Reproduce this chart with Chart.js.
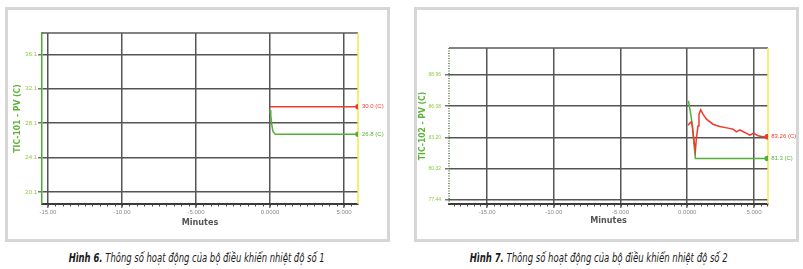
<!DOCTYPE html>
<html><head><meta charset="utf-8">
<script src="https://cdn.jsdelivr.net/npm/chart.js@4.4.1/dist/chart.umd.min.js"></script>
<style>
html,body{margin:0;padding:0;background:#fff;width:803px;height:269px;overflow:hidden;}
.frame{position:absolute;border:3px solid #d6d6d6;box-sizing:border-box;background:#fff;}
.cv{position:absolute;}
.capbox{position:absolute;top:249px;height:16px;line-height:16px;text-align:center;width:394px;}
.cap{display:inline-block;white-space:nowrap;font-family:"Liberation Sans Narrow","DejaVu Sans Condensed",sans-serif;font-style:italic;font-size:13px;color:#1a1a1a;transform-origin:center center;}
.cap b{font-weight:bold;}
</style></head><body>
<div class="frame" style="left:5px;top:7px;width:385px;height:235px;"></div>
<div class="frame" style="left:414px;top:7px;width:385px;height:235px;"></div>
<div class="cv" style="left:8px;top:10px;"><canvas id="c1" width="379" height="229"></canvas></div>
<div class="cv" style="left:417px;top:10px;"><canvas id="c2" width="379" height="229"></canvas></div>
<div class="capbox" style="left:0px;"><span class="cap" id="cap1" data-w="256"><b>Hình 6.</b> Thông số hoạt động của bộ điều khiển nhiệt độ số 1</span></div>
<div class="capbox" style="left:402px;"><span class="cap" id="cap2" data-w="258"><b>Hình 7.</b> Thông số hoạt động của bộ điều khiển nhiệt độ số 2</span></div>
<script>
// ---- Data: chart 1 (TIC-101) ----
const xTicks = [-15, -10, -5, 0, 5];
const xTickLabels = ["-15.00", "-10.00", "-5.000", "0.0000", "5.000"];

const yTicks1 = [20.1, 24.1, 28.1, 32.1, 36.1];
const yTickLabels1 = ["20.1", "24.1", "28.1", "32.1", "36.1"];
const min1Red = [0, 5.94];
const temp1Red = [30.0, 30.0];
const min1Green = [0, 0.05, 0.12, 0.2, 0.35, 5.94];
const temp1Green = [29.6, 29.0, 27.9, 27.1, 26.8, 26.8];
const endLabels1 = ["30.0 (C)", "26.8 (C)"];

// ---- Data: chart 2 (TIC-102) ----
const yTicks2 = [77.44, 80.32, 83.20, 86.08, 88.96];
const yTickLabels2 = ["77.44", "80.32", "83.20", "86.08", "88.96"];
const min2Red = [0.05, 0.19, 0.31, 0.39, 0.49, 0.61, 0.69, 0.81, 0.88, 1.01, 1.18, 1.44, 1.93, 2.43, 3.06, 3.43, 3.69, 3.93, 4.31, 4.68, 4.98, 5.30, 5.68, 5.99];
const temp2Red = [84.33, 84.52, 84.64, 84.12, 83.04, 81.97, 83.20, 84.27, 85.34, 85.74, 85.34, 84.88, 84.42, 84.21, 84.06, 83.96, 83.72, 83.90, 83.66, 83.41, 83.60, 83.35, 83.26, 83.26];
const min2Green = [0.09, 0.24, 0.39, 0.49, 0.61, 5.99];
const temp2Green = [86.57, 85.50, 84.27, 82.74, 81.27, 81.27];
const endLabels2 = ["83.26 (C)", "81.3 (C)"];

const RED = '#ef3b2c';
const GREEN = '#52b035';
const NARROW = '"Liberation Sans Narrow","DejaVu Sans Condensed",Arial,sans-serif';

function pts(xs, ys){ return xs.map((x,i)=>({x:x, y:ys[i]})); }

const decoPlugin = {
  id: 'deco',
  beforeDatasetsDraw(chart, args, opts){
    const {ctx, chartArea:{left,right,top,bottom}} = chart;
    ctx.save();
    ctx.strokeStyle = '#5a5a5a'; ctx.lineWidth = 1.5;
    ctx.beginPath(); ctx.moveTo(left, top); ctx.lineTo(right, top); ctx.stroke();
    // minor ticks on the time axis
    const xs = chart.scales.x;
    ctx.strokeStyle = '#444'; ctx.lineWidth = 1;
    ctx.beginPath();
    for (let v = Math.ceil(xs.min * 2) / 2; v <= xs.max; v += 0.5) {
      const px = Math.round(xs.getPixelForValue(v)) + 0.5;
      ctx.moveTo(px, bottom); ctx.lineTo(px, bottom + 2.5);
    }
    ctx.stroke();
    if (opts.dottedY) {
      ctx.strokeStyle = '#4d7a35'; ctx.lineWidth = 1.5; ctx.setLineDash([1, 1.5]);
      ctx.beginPath(); ctx.moveTo(left, top); ctx.lineTo(left, bottom); ctx.stroke();
      ctx.setLineDash([]);
    }
    ctx.strokeStyle = '#f3e84e'; ctx.lineWidth = 1.5;
    ctx.beginPath(); ctx.moveTo(right, top); ctx.lineTo(right, bottom); ctx.stroke();
    ctx.restore();
  },
  afterDatasetsDraw(chart, args, opts){
    const {ctx} = chart;
    ctx.save();
    ctx.font = '6px Arial';
    ctx.textBaseline = 'middle';
    chart.data.datasets.forEach((ds, i) => {
      const meta = chart.getDatasetMeta(i);
      const p = meta.data[meta.data.length - 1];
      ctx.fillStyle = ds.borderColor;
      ctx.fillText(opts.labels[i], p.x + 4, p.y);
    });
    ctx.restore();
  }
};

function makeChart(id, cfg){
  const lastR = cfg.red.length - 1, lastG = cfg.green.length - 1;
  return new Chart(document.getElementById(id), {
    type: 'line',
    data: {
      datasets: [
        { data: cfg.red, borderColor: RED, backgroundColor: RED, borderWidth: 1.5, tension: 0,
          pointRadius: c => c.dataIndex === lastR ? 2 : 0 },
        { data: cfg.green, borderColor: GREEN, backgroundColor: GREEN, borderWidth: 1.5, tension: 0,
          pointRadius: c => c.dataIndex === lastG ? 2 : 0 }
      ]
    },
    options: {
      responsive: false, animation: false, devicePixelRatio: 1,
      layout: { padding: { left: 0, top: cfg.padTop, right: cfg.padRight, bottom: 0 } },
      plugins: { legend: {display:false}, tooltip: {enabled:false}, deco: { labels: cfg.endLabels, dottedY: cfg.dottedY } },
      scales: {
        x: {
          type: 'linear', min: cfg.xmin, max: cfg.xmax,
          afterBuildTicks: s => { s.ticks = xTicks.map(v => ({value: v})); },
          ticks: { callback: v => xTickLabels[xTicks.indexOf(v)], font: {size: 6, family: 'Arial'}, color: '#8a8a8a', maxRotation: 0, autoSkip: false, padding: 1 },
          grid: { color: '#555', lineWidth: 1.5, tickLength: 4, tickColor: '#777' },
          border: { color: '#3a3a3a', width: 2 },
          title: { display: true, text: 'Minutes', color: '#555', font: { family: NARROW, size: 9, weight: 'bold' }, padding: { top: 0, bottom: cfg.xTitlePad } },
          afterFit: s => { s.height = cfg.xHeight; }
        },
        y: {
          min: cfg.ymin, max: cfg.ymax,
          afterBuildTicks: s => { s.ticks = cfg.yTicks.map(v => ({value: v})); },
          ticks: { callback: v => cfg.yTickLabels[cfg.yTicks.indexOf(v)], font: {size: cfg.yTickSize, family: 'Arial'}, color: '#8dc63f', padding: cfg.yTickPad },
          grid: { color: '#555', lineWidth: 1.5, tickLength: 4, tickColor: '#777' },
          border: cfg.yBorder,
          title: { display: true, text: cfg.yTitle, color: '#5cb335', font: { family: NARROW, size: 8.5, weight: 'bold' }, padding: { top: cfg.yTitlePad, bottom: 0 } },
          afterFit: s => { s.width = cfg.yWidth; }
        }
      }
    },
    plugins: [decoPlugin]
  });
}

makeChart('c1', {
  red: pts(min1Red, temp1Red), green: pts(min1Green, temp1Green), endLabels: endLabels1,
  xmin: -15.4, xmax: 5.94, ymin: 18.71, ymax: 38.57,
  yTicks: yTicks1, yTickLabels: yTickLabels1, yTitle: 'TIC-101 - PV (C)',
  padTop: 23, padRight: 29, xHeight: 35, yWidth: 34, xTitlePad: 11, yTitlePad: 4.5, yTickPad: 1, yTickSize: 6,
  yBorder: { color: '#46b02e', width: 1.5 }, dottedY: false
});
makeChart('c2', {
  red: pts(min2Red, temp2Red), green: pts(min2Green, temp2Green), endLabels: endLabels2,
  xmin: -17.85, xmax: 6.05, ymin: 77.07, ymax: 91.44,
  yTicks: yTicks2, yTickLabels: yTickLabels2, yTitle: 'TIC-102 - PV (C)',
  padTop: 38, padRight: 28, xHeight: 35, yWidth: 32, xTitlePad: 13, yTitlePad: 1, yTickPad: 4, yTickSize: 5,
  yBorder: { display: false }, dottedY: true
});

document.querySelectorAll('.cap').forEach(el => {
  const w = el.getBoundingClientRect().width;
  const target = parseFloat(el.dataset.w);
  el.style.transform = 'scaleX(' + (target / w) + ')';
});
</script>
</body></html>
